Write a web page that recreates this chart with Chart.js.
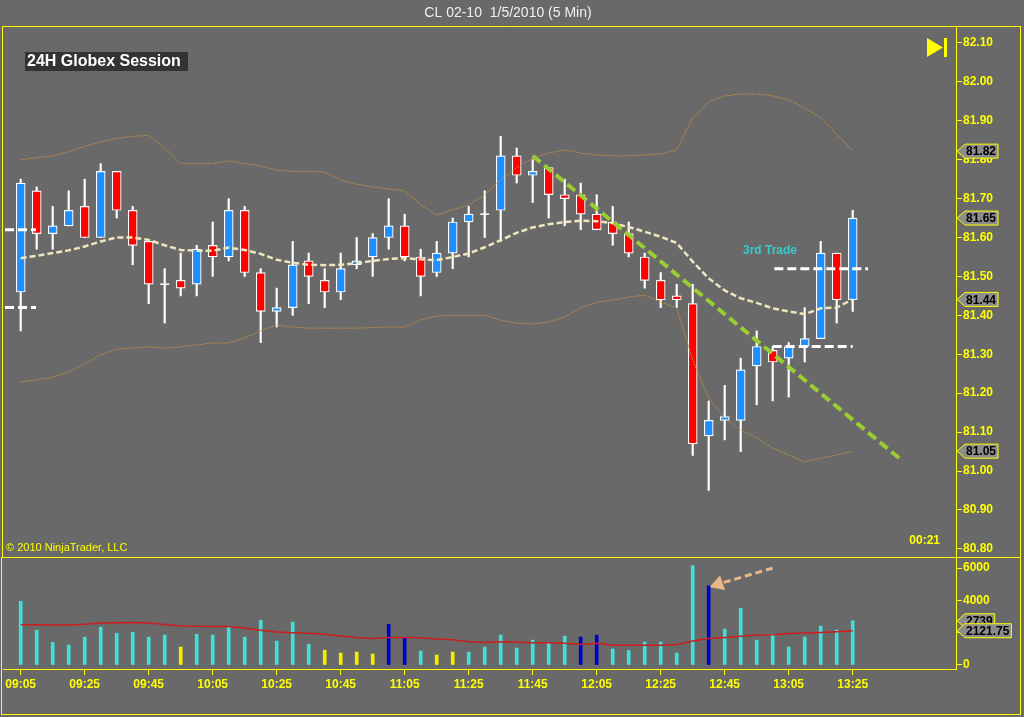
<!DOCTYPE html>
<html>
<head>
<meta charset="utf-8">
<title>CL 02-10 1/5/2010 (5 Min)</title>
<script src="https://cdn.jsdelivr.net/npm/chart.js@4.4.1/dist/chart.umd.min.js"></script>
<style>
  html, body { margin: 0; padding: 0; background: #696969; overflow: hidden; }
  #wrap { position: relative; width: 1024px; height: 717px; }
</style>
</head>
<body>
<div id="wrap"><canvas id="chart" width="1024" height="717"></canvas></div>
<script>
// tick labels
const timeLabels = ['09:05', '09:25', '09:45', '10:05', '10:25', '10:45', '11:05',
                    '11:25', '11:45', '12:05', '12:25', '12:45', '13:05', '13:25'];
const priceTicks = [80.80, 80.90, 81.00, 81.10, 81.20, 81.30, 81.40, 81.50,
                    81.60, 81.70, 81.80, 81.90, 82.00, 82.10];
const volumeTicks = [0, 2000, 4000, 6000];

// 5 minute bars, 09:05 .. 13:25
const opens = [81.46, 81.72, 81.61, 81.63, 81.68, 81.60, 81.77, 81.67, 81.59, 81.48,
               81.49, 81.48, 81.58, 81.55, 81.67, 81.51, 81.41, 81.42, 81.54, 81.49,
               81.46, 81.53, 81.55, 81.60, 81.63, 81.55, 81.51, 81.56, 81.64, 81.66,
               81.67, 81.81, 81.76, 81.78, 81.71, 81.71, 81.66, 81.64, 81.61, 81.55,
               81.49, 81.45, 81.43, 81.09, 81.13, 81.13, 81.27, 81.31, 81.29, 81.32,
               81.34, 81.56, 81.44];
const highs = [81.75, 81.73, 81.68, 81.72, 81.75, 81.79, 81.77, 81.68, 81.59, 81.52,
               81.56, 81.58, 81.64, 81.70, 81.68, 81.52, 81.47, 81.59, 81.56, 81.52,
               81.56, 81.60, 81.61, 81.70, 81.66, 81.57, 81.59, 81.65, 81.68, 81.72,
               81.86, 81.83, 81.80, 81.78, 81.75, 81.74, 81.71, 81.68, 81.64, 81.56,
               81.51, 81.48, 81.48, 81.18, 81.22, 81.29, 81.36, 81.32, 81.33, 81.42,
               81.59, 81.56, 81.67];
const lows = [81.36, 81.57, 81.57, 81.63, 81.60, 81.60, 81.65, 81.53, 81.43, 81.38,
              81.45, 81.45, 81.50, 81.54, 81.50, 81.33, 81.37, 81.40, 81.43, 81.42,
              81.44, 81.52, 81.50, 81.57, 81.54, 81.45, 81.50, 81.52, 81.55, 81.60,
              81.59, 81.74, 81.69, 81.65, 81.63, 81.62, 81.62, 81.58, 81.55, 81.47,
              81.42, 81.42, 81.04, 80.95, 81.08, 81.05, 81.17, 81.18, 81.19, 81.28,
              81.34, 81.38, 81.41];
const closes = [81.74, 81.61, 81.63, 81.67, 81.60, 81.77, 81.67, 81.58, 81.48, 81.48,
                81.47, 81.57, 81.55, 81.67, 81.51, 81.41, 81.42, 81.53, 81.50, 81.46,
                81.52, 81.54, 81.60, 81.63, 81.55, 81.50, 81.56, 81.64, 81.66, 81.66,
                81.81, 81.76, 81.77, 81.71, 81.70, 81.66, 81.62, 81.61, 81.56, 81.49,
                81.44, 81.44, 81.07, 81.13, 81.14, 81.26, 81.32, 81.28, 81.32, 81.34,
                81.56, 81.44, 81.65];

// bollinger style envelope
const bandUpper = [81.800, 81.805, 81.810, 81.820, 81.835, 81.845, 81.855, 81.860, 81.863, 81.830,
                   81.790, 81.790, 81.790, 81.797, 81.790, 81.784, 81.773, 81.770, 81.770, 81.768,
                   81.748, 81.737, 81.730, 81.725, 81.720, 81.684, 81.658, 81.671, 81.684, 81.710,
                   81.748, 81.780, 81.804, 81.817, 81.825, 81.817, 81.812, 81.810, 81.810, 81.812,
                   81.815, 81.825, 81.907, 81.948, 81.964, 81.969, 81.969, 81.964, 81.954, 81.933,
                   81.907, 81.866, 81.822];
const bandMiddle = [81.547, 81.553, 81.560, 81.567, 81.577, 81.590, 81.600, 81.600, 81.594, 81.580,
                    81.568, 81.566, 81.566, 81.574, 81.568, 81.558, 81.543, 81.535, 81.530, 81.529,
                    81.530, 81.534, 81.540, 81.545, 81.547, 81.544, 81.542, 81.550, 81.559, 81.575,
                    81.593, 81.612, 81.626, 81.634, 81.640, 81.643, 81.642, 81.637, 81.627, 81.615,
                    81.602, 81.586, 81.538, 81.495, 81.464, 81.444, 81.432, 81.418, 81.410, 81.403,
                    81.418, 81.420, 81.441];
const bandLower = [81.229, 81.234, 81.241, 81.254, 81.275, 81.298, 81.313, 81.316, 81.319, 81.316,
                   81.319, 81.324, 81.329, 81.329, 81.342, 81.360, 81.375, 81.370, 81.367, 81.367,
                   81.367, 81.367, 81.369, 81.370, 81.370, 81.388, 81.398, 81.400, 81.400, 81.400,
                   81.388, 81.380, 81.378, 81.383, 81.396, 81.419, 81.434, 81.439, 81.447, 81.452,
                   81.434, 81.419, 81.285, 81.187, 81.136, 81.105, 81.085, 81.059, 81.041, 81.023,
                   81.033, 81.041, 81.051];

const volumes = [3950, 2150, 1400, 1230, 1720, 2340, 1970, 2030, 1720, 1850,
                 1110, 1900, 1850, 2400, 1720, 2770, 1480, 2650, 1290, 920,
                 740, 800, 680, 2520, 1660, 860, 620, 800, 800, 1110,
                 1850, 1050, 1540, 1360, 1790, 1730, 1850, 990, 900, 1420,
                 1420, 740, 6150, 4900, 2220, 3510, 1540, 1910, 1110, 1730,
                 2400, 2160, 2739];
const volumeKinds = ['c', 'c', 'c', 'c', 'c', 'c', 'c', 'c', 'c', 'c',
                     'y', 'c', 'c', 'c', 'c', 'c', 'c', 'c', 'c', 'y',
                     'y', 'y', 'y', 'b', 'b', 'c', 'y', 'y', 'c', 'c',
                     'c', 'c', 'c', 'c', 'c', 'b', 'b', 'c', 'c', 'c',
                     'c', 'c', 'c', 'b', 'c', 'c', 'c', 'c', 'c', 'c',
                     'c', 'c', 'c'];
const volumeAverage = [2495, 2490, 2470, 2480, 2530, 2600, 2620, 2630, 2600, 2500,
                       2420, 2400, 2390, 2380, 2270, 2150, 2040, 2000, 1970, 1900,
                       1800, 1700, 1640, 1700, 1710, 1680, 1610, 1560, 1440, 1400,
                       1440, 1420, 1380, 1370, 1340, 1270, 1340, 1230, 1230, 1230,
                       1230, 1270, 1480, 1640, 1710, 1780, 1850, 1880, 1950, 1980,
                       2010, 2060, 2121.75];

// drawn objects, in bar index / price units
const trendLine = [[32, 81.81], [55, 81.03]];
const tradeLines = [[-0.98, 0.96, 81.62], [-0.98, 0.96, 81.42],
                    [47.1, 52.96, 81.52], [47.0, 52.0, 81.32]];
const volumeArrow = [[47.0, 6000], [43.6, 5015]];

const YELLOW = '#ffff00';
const FONT = '"Liberation Sans", Arial, sans-serif';
const kindColors = { c: '#40e0d8', y: '#f0f000', b: '#0000cd' };

Chart.defaults.font.family = FONT;

const idx = closes.map((c, i) => i);
const isUp = idx.map(i => closes[i] > opens[i]);
const dojis = idx.filter(i => closes[i] === opens[i]);

function series(values) {
    return values.map((v, i) => ({ x: i, y: v }));
}

function segment(pairs) {
    return pairs.map(p => ({ x: p[0], y: p[1] }));
}

function drawMarker(ctx, xTip, yMid, text) {
    ctx.font = 'bold 12px ' + FONT;
    const w = ctx.measureText(text).width;
    ctx.beginPath();
    ctx.moveTo(xTip, yMid);
    ctx.lineTo(xTip + 8, yMid - 7);
    ctx.lineTo(xTip + 11 + w, yMid - 7);
    ctx.lineTo(xTip + 11 + w, yMid + 7);
    ctx.lineTo(xTip + 8, yMid + 7);
    ctx.closePath();
    ctx.fillStyle = '#8c8c8c';
    ctx.fill();
    ctx.strokeStyle = YELLOW;
    ctx.lineWidth = 1;
    ctx.stroke();
    ctx.fillStyle = '#000000';
    ctx.textAlign = 'left';
    ctx.textBaseline = 'middle';
    ctx.fillText(text, xTip + 9, yMid + 1);
}

const overlayPlugin = {
    id: 'overlay',
    afterDraw(chart) {
        const ctx = chart.ctx;
        const { x, y, yv } = chart.scales;
        const area = chart.chartArea;
        const last = closes.length - 1;
        ctx.save();

        // panel frames
        ctx.strokeStyle = YELLOW;
        ctx.lineWidth = 1;
        ctx.beginPath();
        ctx.moveTo(2, area.top - 0.5); ctx.lineTo(1021, area.top - 0.5);
        ctx.moveTo(1, Math.round(y.bottom) + 0.5); ctx.lineTo(1021, Math.round(y.bottom) + 0.5);
        ctx.moveTo(2.5, area.top); ctx.lineTo(2.5, y.bottom);
        ctx.moveTo(1.5, y.bottom); ctx.lineTo(1.5, 715);
        ctx.moveTo(1020.5, area.top); ctx.lineTo(1020.5, 715);
        ctx.moveTo(1, 714.5); ctx.lineTo(1021, 714.5);
        ctx.stroke();

        // title
        ctx.fillStyle = '#f0f0f0';
        ctx.font = '14px ' + FONT;
        ctx.textAlign = 'center';
        ctx.textBaseline = 'middle';
        ctx.fillText('CL 02-10  1/5/2010 (5 Min)', 508, 13);

        // session label
        ctx.fillStyle = '#333333';
        ctx.fillRect(25, 52, 163, 19);
        ctx.fillStyle = '#ffffff';
        ctx.font = 'bold 16px ' + FONT;
        ctx.textAlign = 'left';
        ctx.fillText('24H Globex Session', 27, 62);

        // copyright and bar timer
        ctx.fillStyle = YELLOW;
        ctx.font = '11px ' + FONT;
        ctx.fillText('\u00a9 2010 NinjaTrader, LLC', 6, 548);
        ctx.font = 'bold 12px ' + FONT;
        ctx.textAlign = 'right';
        ctx.fillText('00:21', 940, 541);

        // play icon
        ctx.beginPath();
        ctx.moveTo(927, 38); ctx.lineTo(927, 57); ctx.lineTo(943, 47.5);
        ctx.closePath();
        ctx.fill();
        ctx.fillRect(944, 38, 3, 19);

        // trade label
        ctx.fillStyle = '#33cccc';
        ctx.font = 'bold 12px ' + FONT;
        ctx.textAlign = 'center';
        ctx.fillText('3rd Trade', x.getPixelForValue(46.83), y.getPixelForValue(81.566));

        // price markers
        const xTip = y.left + 1;
        drawMarker(ctx, xTip, y.getPixelForValue(bandUpper[last]), bandUpper[last].toFixed(2));
        drawMarker(ctx, xTip, y.getPixelForValue(closes[last]), closes[last].toFixed(2));
        drawMarker(ctx, xTip, y.getPixelForValue(bandMiddle[last]), bandMiddle[last].toFixed(2));
        drawMarker(ctx, xTip, y.getPixelForValue(bandLower[last]), bandLower[last].toFixed(2));

        // volume markers
        drawMarker(ctx, xTip, yv.getPixelForValue(volumes[last]), String(volumes[last]));
        drawMarker(ctx, xTip, yv.getPixelForValue(volumeAverage[last]), volumeAverage[last].toFixed(2));
        ctx.restore();
    }
};

const tickFont = { size: 12, weight: 'bold' };

const datasets = [
    {
        type: 'line', label: 'Trend', data: segment(trendLine), yAxisID: 'y', order: 0,
        borderColor: '#9acd32', borderWidth: 4, borderDash: [10, 5], pointRadius: 0
    },
    {
        type: 'line', label: 'Arrow', data: segment(volumeArrow), yAxisID: 'yv', order: 0,
        borderColor: '#e8b88a', backgroundColor: '#e8b88a', borderWidth: 3, borderDash: [7, 4],
        pointStyle: 'triangle', pointRadius: [0, 9], pointRotation: [0, 251], pointBorderWidth: 0
    },
    ...tradeLines.map(t => ({
        type: 'line', label: 'Trade', data: [{ x: t[0], y: t[2] }, { x: t[1], y: t[2] }],
        yAxisID: 'y', order: 1, borderColor: '#ffffff', borderWidth: 3, borderDash: [9, 4], pointRadius: 0
    })),
    {
        type: 'line', label: 'Upper', data: series(bandUpper), yAxisID: 'y', order: 2,
        borderColor: '#c08a48', borderWidth: 1, borderDash: [2, 1], pointRadius: 0
    },
    {
        type: 'line', label: 'Lower', data: series(bandLower), yAxisID: 'y', order: 2,
        borderColor: '#c08a48', borderWidth: 1, borderDash: [2, 1], pointRadius: 0
    },
    {
        type: 'line', label: 'Middle', data: series(bandMiddle), yAxisID: 'y', order: 2,
        borderColor: '#efe6bd', borderWidth: 2.5, borderDash: [6, 3], pointRadius: 0
    },
    {
        type: 'line', label: 'Doji', data: dojis.map(i => ({ x: i, y: closes[i] })), yAxisID: 'y', order: 5,
        showLine: false, pointStyle: 'line', pointRadius: 4.5, borderColor: '#ffffff', pointBorderWidth: 1.5
    },
    {
        type: 'bar', label: 'Body', data: idx.map(i => ({ x: i, y: [opens[i], closes[i]] })), yAxisID: 'y', order: 6,
        backgroundColor: isUp.map(u => u ? '#1e90ff' : '#ff0000'),
        borderColor: '#ffffff', borderWidth: 1.2, borderSkipped: false,
        barThickness: 9, grouped: false
    },
    {
        type: 'bar', label: 'Wick', data: idx.map(i => ({ x: i, y: [lows[i], highs[i]] })), yAxisID: 'y', order: 7,
        backgroundColor: '#ffffff', borderWidth: 0, barThickness: 1.5, grouped: false
    },
    {
        type: 'line', label: 'Volume MA', data: series(volumeAverage), yAxisID: 'yv', order: 3,
        borderColor: '#d01c1c', borderWidth: 1.5, pointRadius: 0
    },
    {
        type: 'bar', label: 'Volume', data: series(volumes), yAxisID: 'yv', order: 8,
        backgroundColor: volumeKinds.map(k => kindColors[k]), borderWidth: 0,
        barThickness: 3, grouped: false
    }
];

new Chart(document.getElementById('chart'), {
    type: 'bar',
    data: { datasets },
    options: {
        responsive: false,
        devicePixelRatio: 1,
        animation: false,
        layout: { autoPadding: false, padding: { top: 27, left: 3, right: 0, bottom: 0 } },
        plugins: { legend: { display: false }, tooltip: { enabled: false } },
        scales: {
            x: {
                type: 'linear', position: 'bottom', min: -1.106, max: 58.456, offset: false,
                grid: { drawOnChartArea: false, drawTicks: true, tickLength: 6, color: YELLOW, offset: false },
                border: { color: YELLOW, width: 1 },
                ticks: {
                    color: YELLOW, font: tickFont, padding: 2, autoSkip: false, maxRotation: 0,
                    callback: value => timeLabels[value / 4]
                },
                afterBuildTicks: axis => { axis.ticks = timeLabels.map((t, k) => ({ value: k * 4 })); },
                afterFit: axis => { axis.height = 48; }
            },
            y: {
                type: 'linear', position: 'right', stack: 'panes', stackWeight: 530,
                min: 80.779, max: 82.141,
                grid: { drawOnChartArea: false, drawTicks: true, tickLength: 6, color: YELLOW },
                border: { color: YELLOW, width: 1 },
                ticks: { color: YELLOW, font: tickFont, padding: 1, callback: v => v.toFixed(2) },
                afterBuildTicks: axis => { axis.ticks = priceTicks.map(v => ({ value: v })); },
                afterFit: axis => { axis.width = 68; }
            },
            yv: {
                type: 'linear', position: 'right', stack: 'panes', stackWeight: 112,
                min: -248, max: 6687,
                grid: { drawOnChartArea: false, drawTicks: true, tickLength: 6, color: YELLOW },
                border: { color: YELLOW, width: 1 },
                ticks: { color: YELLOW, font: tickFont, padding: 1, callback: v => String(v) },
                afterBuildTicks: axis => { axis.ticks = volumeTicks.map(v => ({ value: v })); },
                afterFit: axis => { axis.width = 68; }
            }
        }
    },
    plugins: [overlayPlugin]
});
</script>
</body>
</html>
